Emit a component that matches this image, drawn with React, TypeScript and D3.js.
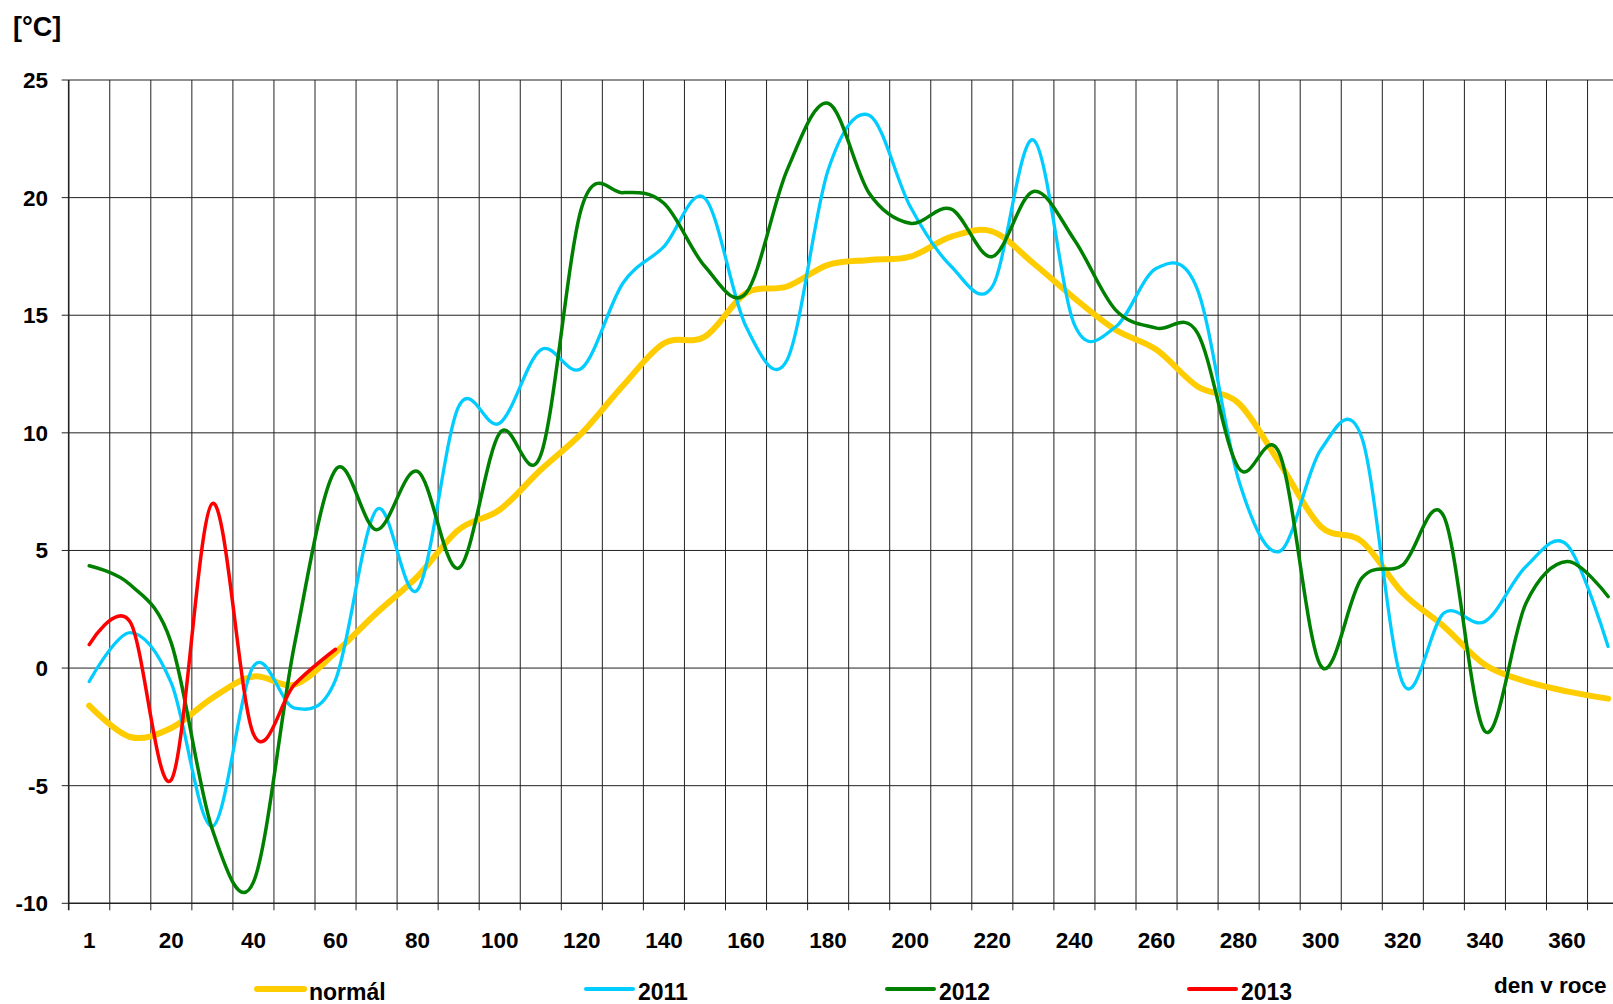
import React, { useEffect } from 'react';
import * as d3 from 'd3';

// categories: day of year (every 10 days)
const days = [1, 10, 20, 30, 40, 50, 60, 70, 80, 90, 100, 110, 120, 130, 140, 150, 160, 170, 180, 190,
  200, 210, 220, 230, 240, 250, 260, 270, 280, 290, 300, 310, 320, 330, 340, 350, 360, 370];

const normal = [-1.6, -2.93, -2.55, -1.27, -0.36, -0.7, 0.66, 2.34, 3.9, 5.88, 6.73, 8.43, 9.99, 12.0,
  13.81, 14.09, 15.94, 16.22, 17.14, 17.35, 17.49, 18.34, 18.56, 17.21, 15.72, 14.38, 13.53, 11.97,
  11.26, 8.71, 6.02, 5.38, 3.19, 1.77, 0.14, -0.57, -0.99, -1.3];

const y2011 = [-0.57, 1.51, -0.64, -6.73, 0.07, -1.7, -0.5, 6.73, 3.33, 11.12, 10.41, 13.53, 12.75, 16.36,
  17.92, 19.97, 14.52, 13.1, 21.17, 23.5, 19.62, 17.07, 16.22, 22.45, 14.6, 14.5, 17.0, 16.08, 8.0,
  4.96, 9.28, 9.8, -0.64, 2.34, 1.98, 4.32, 5.24, 0.92];

const y2012 = [4.35, 3.54, 1.06, -6.87, -9.1, 1.0, 8.43, 5.88, 8.36, 4.25, 9.99, 9.06, 19.6, 20.21, 19.76,
  17.07, 15.94, 21.17, 24.01, 20.19, 18.91, 19.51, 17.49, 20.26, 18.2, 15.23, 14.45, 14.24, 8.5, 9.1,
  0.1, 3.82, 4.39, 6.44, -2.69, 2.76, 4.53, 3.04];

const y2013 = [1.0, 1.95, -4.75, 7.0, -2.8, -0.7, 0.8];

const yTicks = [-10, -5, 0, 5, 10, 15, 20, 25];

const series = [
  { name: 'normál', values: normal, color: '#FFCC00', width: 6 },
  { name: '2011', values: y2011, color: '#00CCFF', width: 3.3 },
  { name: '2012', values: y2012, color: '#008000', width: 3.5 },
  { name: '2013', values: y2013, color: '#FF0000', width: 3.5 },
];

const legendX = [257, 586, 887, 1189];

const App = () => {
  useEffect(() => {
    document.body.style.margin = '0';
    document.body.style.overflow = 'hidden';
  }, []);

  const left = 68.7;
  const step = 41.05;
  const top = 80;
  const bottom = 903.3;

  const x = d3.scaleBand<number>()
    .domain(days.map((d, i) => i))
    .range([left, left + step * days.length])
    .padding(0);
  const cx = (i: number) => (x(i) as number) + x.bandwidth() / 2;

  const y = d3.scaleLinear().domain([-10, 25]).range([bottom, top]);

  const line = d3.line<number>()
    .x((d, i) => cx(i))
    .y(d => y(d))
    .curve(d3.curveCatmullRom.alpha(0));

  const font = "'Liberation Sans', Arial, sans-serif";
  const right = left + step * days.length;

  return (
    <svg width={1613} height={1004} style={{ position: 'absolute', left: 0, top: 0, background: '#fff' }}
      fontFamily={font} fontWeight="bold">
      <text x={13} y={36} fontSize={27}>[°C]</text>

      {/* horizontal grid */}
      {yTicks.map(t => (
        <g key={'h' + t}>
          <line x1={left} x2={right} y1={y(t)} y2={y(t)} stroke="#222" strokeWidth={t === -10 ? 1.6 : 1} />
          <line x1={left - 7} x2={left} y1={y(t)} y2={y(t)} stroke="#222" strokeWidth={1} />
          <text x={48} y={y(t) + 8} fontSize={22.5} textAnchor="end">{t}</text>
        </g>
      ))}

      {/* vertical grid */}
      {days.map((d, i) => (
        <line key={'v' + i} x1={x(i)} x2={x(i)} y1={top} y2={bottom + 7}
          stroke="#222" strokeWidth={i === 0 ? 1.6 : 1} />
      ))}

      {/* x labels */}
      {days.map((d, i) => i % 2 === 0 ? (
        <text key={'xl' + i} x={cx(i)} y={948} fontSize={22.5} textAnchor="middle">{d}</text>
      ) : null)}

      {/* series */}
      {series.map(s => (
        <path key={s.name} d={line(s.values) || ''} fill="none" stroke={s.color}
          strokeWidth={s.width} strokeLinejoin="round" strokeLinecap="round" />
      ))}

      {/* legend */}
      {series.map((s, i) => (
        <g key={'lg' + s.name}>
          <line x1={legendX[i]} x2={legendX[i] + 47} y1={989} y2={989} stroke={s.color}
            strokeWidth={s.width === 6 ? 6 : 4} strokeLinecap="round" />
          <text x={legendX[i] + 52} y={1000} fontSize={23}>{s.name}</text>
        </g>
      ))}

      <text x={1494} y={993} fontSize={22.5}>den v roce</text>
    </svg>
  );
};

export default App;
